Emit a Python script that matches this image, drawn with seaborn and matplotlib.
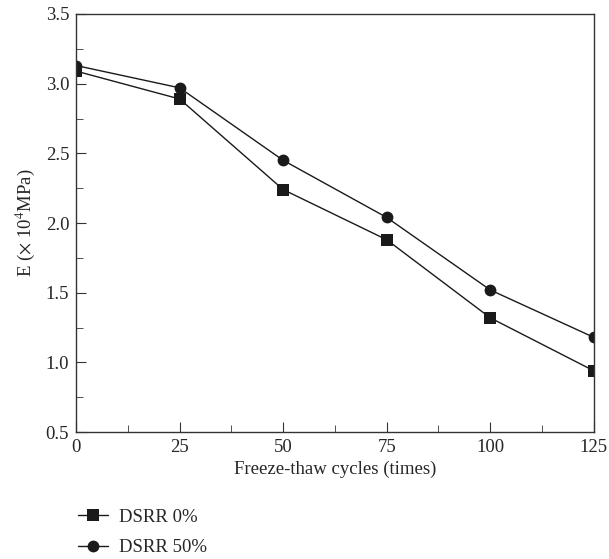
import numpy as np
import pandas as pd
import matplotlib
matplotlib.use("Agg")
import matplotlib.pyplot as plt
import seaborn as sns
from matplotlib.ticker import MultipleLocator

# data
cycles = [0, 25, 50, 75, 100, 125]
dsrr_0 = [3.09, 2.89, 2.24, 1.88, 1.32, 0.94]
dsrr_50 = [3.13, 2.97, 2.45, 2.04, 1.52, 1.18]
series_names = ["DSRR 0%", "DSRR 50%"]

df = pd.DataFrame({
    "cycles": cycles * 2,
    "E": dsrr_0 + dsrr_50,
    "series": [series_names[0]] * len(cycles) + [series_names[1]] * len(cycles),
})

sns.set_style("ticks")
plt.rcParams["font.family"] = ["Liberation Serif", "DejaVu Serif"]
plt.rcParams["mathtext.fontset"] = "stix"

fig = plt.figure(figsize=(6.09, 5.59), dpi=100)
ax = fig.add_axes([0.125, 0.227, 0.85, 0.748])

sns.lineplot(
    data=df, x="cycles", y="E", style="series", hue="series",
    palette=["#1a1a1a", "#1a1a1a"], markers=["s", "o"], dashes=False,
    markersize=8.5, linewidth=1.0, markeredgewidth=0, ax=ax, legend=True,
)

ax.set_xlim(0, 125)
ax.set_ylim(0.5, 3.5)
ax.xaxis.set_major_locator(MultipleLocator(25))
ax.xaxis.set_minor_locator(MultipleLocator(12.5))
ax.yaxis.set_major_locator(MultipleLocator(0.5))
ax.yaxis.set_minor_locator(MultipleLocator(0.25))
ax.tick_params(which="both", direction="in", top=False, right=False, labelsize=13.5,
               color="#333333", pad=5)
ax.tick_params(which="major", length=7)
ax.tick_params(which="minor", length=5)
for s in ax.spines.values():
    s.set_linewidth(1.0)
    s.set_color("#333333")

ax.set_xlabel("Freeze-thaw cycles (times)", fontsize=13.5, labelpad=3)
ax.set_ylabel(r"E ($\times$ 10$^{4}$MPa)", fontsize=13.5, labelpad=6)

handles, labels = ax.get_legend_handles_labels()
ax.get_legend().remove()
fig.legend(handles, labels, loc="lower left", bbox_to_anchor=(0.10, -0.025),
           frameon=False, fontsize=13.5, handlelength=1.6, handletextpad=0.6,
           labelspacing=0.7)

fig.savefig("out.png", dpi=100)
